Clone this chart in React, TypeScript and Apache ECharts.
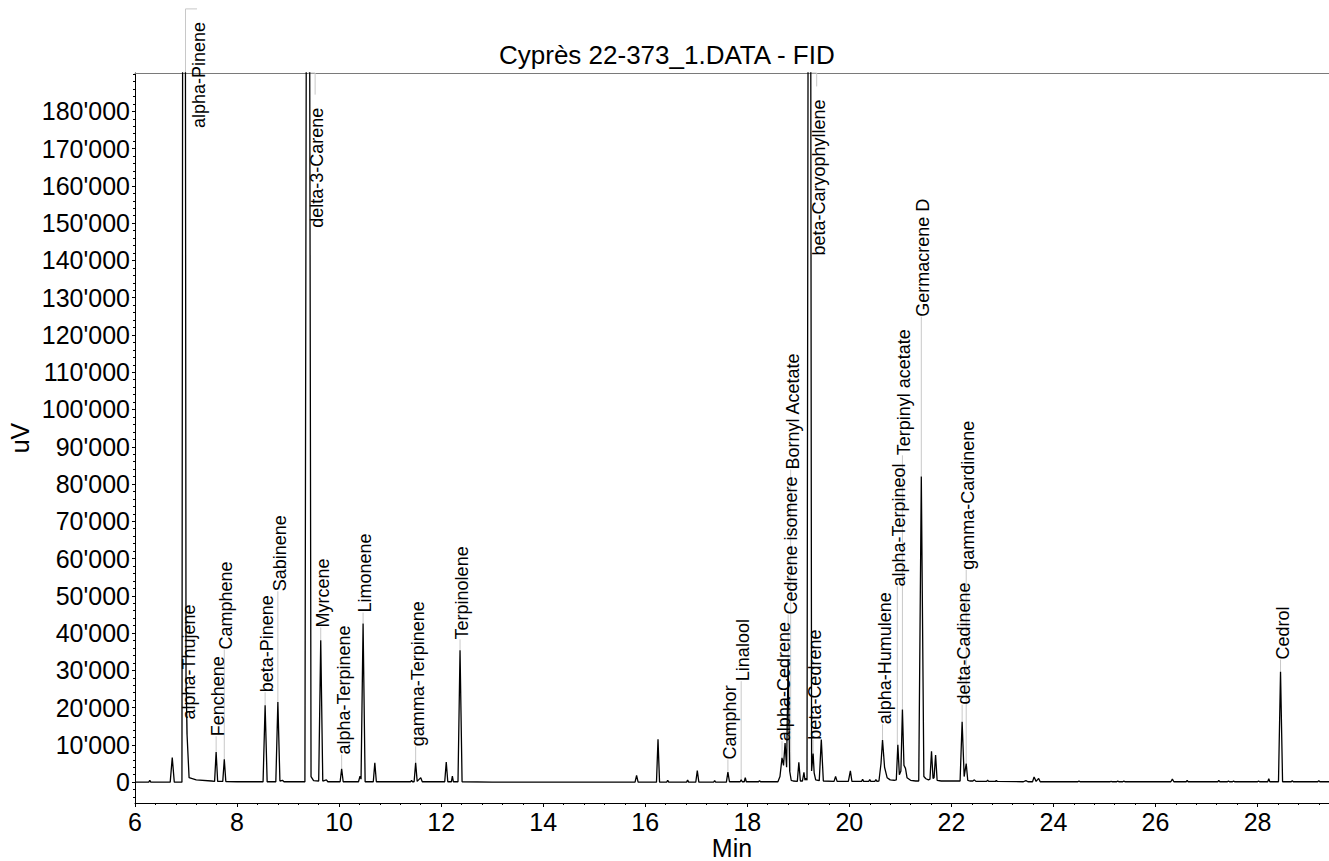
import React, { useEffect, useRef } from "react";
import * as echarts from "echarts";

const TITLE = "Cyprès 22-373_1.DATA - FID";
const X_NAME = "Min";
const Y_NAME = "uV";
const X_MIN = 6;
const X_MAX = 29.4;
const Y_MIN = -5600;
const Y_MAX = 190300;
const X_TICKS = [6, 8, 10, 12, 14, 16, 18, 20, 22, 24, 26, 28];
const Y_TICKS = [0, 10000, 20000, 30000, 40000, 50000, 60000, 70000, 80000, 90000, 100000, 110000, 120000, 130000, 140000, 150000, 160000, 170000, 180000];

// chromatogram trace: [time (min), signal (uV)]
const TRACE: [number, number][] = [
  [6.0, 0], [6.27, 0], [6.29, 500], [6.31, 0],
  [6.69, 0], [6.73, 6600], [6.77, 0],
  [6.92, 0], [6.96, 600000], [7.0, 28000], [7.02, 12800], [7.06, 1200], [7.2, 600], [7.5, 300],
  [7.56, 200], [7.59, 8100], [7.62, 200],
  [7.72, 200], [7.75, 6100], [7.78, 150], [8.0, 100],
  [8.51, 100], [8.55, 20600], [8.59, 100],
  [8.76, 100], [8.8, 21500], [8.84, 300], [8.89, 500], [8.92, 100],
  [9.33, 100], [9.39, 450000], [9.45, 1500], [9.5, 400],
  [9.6, 300], [9.64, 38100], [9.68, 300], [9.75, 600], [9.78, 100],
  [10.02, 100], [10.05, 3600], [10.08, 100],
  [10.38, 100], [10.41, 1600], [10.43, 800], [10.47, 42600], [10.51, 100],
  [10.67, 100], [10.7, 5200], [10.73, 100],
  [11.4, 100], [11.42, 500], [11.44, 100],
  [11.47, 100], [11.5, 5200], [11.53, 200], [11.6, 1200], [11.63, 100],
  [12.07, 100], [12.1, 5400], [12.13, 100], [12.2, 100], [12.22, 1600], [12.24, 100],
  [12.33, 100], [12.37, 35400], [12.41, 100],
  [13.0, 0], [15.5, 0],
  [15.8, 0], [15.83, 1800], [15.86, 0],
  [16.22, 0], [16.25, 11500], [16.28, 0], [16.42, 0], [16.44, 500], [16.46, 0], [16.81, 0], [16.83, 600], [16.85, 0],
  [16.99, 0], [17.02, 3100], [17.05, 0], [17.34, 0], [17.36, 400], [17.38, 0],
  [17.59, 0], [17.62, 2700], [17.65, 100], [17.86, 100], [17.88, 600], [17.9, 100], [17.94, 100], [17.96, 1200], [17.98, 100],
  [18.22, 100], [18.24, 400], [18.26, 100],
  [18.6, 100], [18.64, 1500], [18.68, 6500], [18.71, 4500], [18.74, 10500], [18.77, 4000], [18.8, 32900], [18.83, 3000], [18.86, 500], [18.9, 300],
  [18.98, 200], [19.01, 5300], [19.04, 300], [19.08, 300], [19.11, 2600], [19.13, 500], [19.15, 1000], [19.17, 500],
  [19.22, 480000], [19.26, 3000], [19.29, 7700], [19.31, 2500], [19.34, 600], [19.41, 400], [19.45, 11400], [19.49, 300],
  [19.7, 200], [19.73, 1500], [19.76, 200], [19.98, 200], [20.02, 3000], [20.05, 200],
  [20.24, 200], [20.26, 800], [20.28, 200], [20.38, 200], [20.4, 700], [20.42, 200], [20.5, 200], [20.52, 700], [20.54, 200],
  [20.58, 300], [20.62, 5000], [20.65, 11300], [20.69, 4000], [20.74, 1200], [20.8, 600], [20.88, 500],
  [20.92, 600], [20.95, 10000], [20.98, 2000], [21.01, 3000], [21.04, 19500], [21.07, 4500], [21.1, 3700], [21.13, 1200], [21.2, 500], [21.3, 300],
  [21.36, 300], [21.41, 82000], [21.46, 1500], [21.5, 900], [21.55, 600], [21.58, 800], [21.61, 8300], [21.64, 1000], [21.66, 1200], [21.69, 7300], [21.72, 500], [21.8, 300],
  [22.17, 300], [22.21, 16200], [22.25, 1500], [22.29, 5000], [22.32, 500], [22.36, 300], [22.42, 300], [22.45, 600], [22.48, 200],
  [22.69, 200], [22.71, 500], [22.73, 200], [22.86, 200], [22.88, 400], [22.9, 200],
  [23.41, 100], [23.46, 400], [23.5, 100], [23.59, 100], [23.62, 1400], [23.66, 200], [23.71, 1000], [23.74, 100],
  [24.48, 100], [24.5, 300], [24.52, 100],
  [25.11, 100], [25.13, 200], [25.15, 100], [25.24, 100], [25.26, 300], [25.28, 100], [25.36, 100], [25.38, 300], [25.4, 100],
  [26.3, 100], [26.33, 800], [26.36, 100], [26.6, 100], [26.62, 500], [26.64, 100],
  [27.22, 100], [27.24, 500], [27.26, 100], [27.41, 100], [27.43, 300], [27.45, 100], [27.51, 100], [27.53, 300], [27.55, 100],
  [28.0, 100], [28.02, 300], [28.04, 100], [28.2, 100], [28.22, 900], [28.24, 100],
  [28.41, 100], [28.45, 29600], [28.49, 100], [28.66, 100], [28.68, 400], [28.7, 100],
  [29.18, 100], [29.2, 400], [29.22, 100], [29.4, 100],
];

// peak annotations
const LABEL_NAMES = [
  "alpha-Pinene", "alpha-Thujene", "Fenchene", "Camphene", "beta-Pinene", "Sabinene",
  "delta-3-Carene", "Myrcene", "alpha-Terpinene", "Limonene", "gamma-Terpinene", "Terpinolene",
  "Camphor", "Linalool", "alpha-Cedrene", "Cedrene isomere", "Bornyl Acetate", "beta-Caryophyllene",
  "beta-Cedrene", "alpha-Humulene", "alpha-Terpineol", "Terpinyl acetate", "Germacrene D",
  "delta-Cadinene", "gamma-Cardinene", "Cedrol",
];
const LABEL_PEAK_TIME = [6.99, 7.02, 7.59, 7.75, 8.55, 8.8, 9.39, 9.64, 10.05, 10.47, 11.5, 12.37, 17.62, 17.88, 18.68, 18.8, 18.85, 19.22, 19.29, 20.65, 20.94, 21.04, 21.41, 22.21, 22.29, 28.45];
const LABEL_PEAK_UV = [190300, 12800, 8100, 6100, 20600, 21500, 190300, 38100, 3600, 42600, 5200, 35400, 2700, 600, 6500, 32900, 3000, 190300, 7700, 11300, 10000, 19500, 82000, 16200, 5000, 29600];
const LABEL_TEXT_TIME = [7.215, 7.02, 7.59, 7.75, 8.55, 8.8, 9.53, 9.64, 10.05, 10.47, 11.5, 12.37, 17.62, 17.88, 18.68, 18.81, 18.86, 19.36, 19.29, 20.65, 20.94, 21.04, 21.41, 22.21, 22.29, 28.45];
const LABEL_TEXT_UV = [204000, 16800, 12300, 35600, 24100, 51200, 181000, 41500, 7400, 45500, 9600, 38300, 6100, 27100, 11000, 45000, 83900, 183200, 11400, 15500, 52500, 87700, 124900, 20800, 57000, 32900];
const LABEL_HANG = [true, false, false, false, false, false, true, false, false, false, false, false, false, false, false, false, false, true, false, false, false, false, false, false, false, false];
const LABEL_BEND_UV = [207500, 0, 0, 0, 0, 0, 190300, 0, 0, 0, 0, 0, 0, 0, 0, 0, 0, 190300, 0, 0, 0, 0, 0, 0, 0, 0];

const FONT = "'Liberation Sans', Arial, Helvetica, sans-serif";

function minorTicks(start: number, end: number, step: number, majors: number[]) {
  const out: number[] = [];
  const n = Math.floor((end - start) / step + 1e-9);
  for (let i = 0; i <= n; i++) {
    const v = Math.round((start + i * step) * 1000) / 1000;
    if (!majors.some((m) => Math.abs(m - v) < 1e-6)) out.push(v);
  }
  return out;
}

function fmtY(v: number) {
  return String(Math.round(v)).replace(/\B(?=(\d{3})+(?!\d))/g, "'");
}

export default function App() {
  const ref = useRef<HTMLDivElement>(null);
  useEffect(() => {
    if (!ref.current) return;
    const chart = echarts.init(ref.current, undefined, { renderer: "svg" });
    const xMinor = minorTicks(X_MIN, X_MAX, 0.4, X_TICKS);
    const yMinor = minorTicks(-4000, 190000, 2000, Y_TICKS);
    const labelData = LABEL_NAMES.map((_, i) => [LABEL_TEXT_TIME[i], LABEL_TEXT_UV[i]]);

    const option: any = {
      animation: false,
      backgroundColor: "#fff",
      title: {
        text: TITLE,
        left: 499,
        top: 42,
        padding: 0,
        textStyle: { fontSize: 26, fontWeight: "normal", color: "#000", fontFamily: FONT },
      },
      grid: { left: 135, top: 73, right: 0, bottom: 58, containLabel: false, outerBoundsMode: "none" },
      xAxis: [
        {
          type: "value",
          min: X_MIN,
          max: X_MAX,
          position: "bottom",
          axisLine: { show: true, onZero: false, lineStyle: { color: "#000", width: 1 } },
          axisTick: { show: true, inside: false, length: 4, customValues: X_TICKS, lineStyle: { color: "#000" } },
          axisLabel: { customValues: X_TICKS, fontSize: 25, color: "#000", fontFamily: FONT, margin: 6 },
          splitLine: { show: false },
          name: X_NAME,
          nameLocation: "middle",
          nameGap: 32,
          nameMoveOverlap: false,
          nameTextStyle: { fontSize: 25, color: "#000", fontFamily: FONT, lineHeight: 25 },
        },
        {
          type: "value",
          min: X_MIN,
          max: X_MAX,
          position: "bottom",
          axisLine: { show: false, onZero: false },
          axisTick: { show: true, inside: false, length: 2, customValues: xMinor, lineStyle: { color: "#000" } },
          axisLabel: { show: false },
          splitLine: { show: false },
        },
        {
          type: "value",
          min: X_MIN,
          max: X_MAX,
          position: "top",
          axisLine: { show: true, onZero: false, lineStyle: { color: "#7a7a7a", width: 1 } },
          axisTick: { show: false },
          axisLabel: { show: false },
          splitLine: { show: false },
        },
      ],
      yAxis: [
        {
          type: "value",
          min: Y_MIN,
          max: Y_MAX,
          position: "left",
          axisLine: { show: true, onZero: false, lineStyle: { color: "#000", width: 1 } },
          axisTick: { show: true, inside: false, length: 3, customValues: Y_TICKS, lineStyle: { color: "#000" } },
          axisLabel: { customValues: Y_TICKS, fontSize: 25, color: "#000", fontFamily: FONT, margin: 5, formatter: fmtY },
          splitLine: { show: false },
          name: Y_NAME,
          nameLocation: "middle",
          nameGap: 103,
          nameMoveOverlap: false,
          nameTextStyle: { fontSize: 25, color: "#000", fontFamily: FONT },
        },
        {
          type: "value",
          min: Y_MIN,
          max: Y_MAX,
          position: "left",
          axisLine: { show: false, onZero: false },
          axisTick: { show: true, inside: false, length: 2, customValues: yMinor, lineStyle: { color: "#000" } },
          axisLabel: { show: false },
          splitLine: { show: false },
        },
      ],
      series: [
        {
          type: "custom",
          xAxisIndex: 0,
          yAxisIndex: 0,
          z: 1,
          clip: false,
          silent: true,
          data: labelData,
          encode: { x: 0, y: 1 },
          renderItem: (params: any, api: any) => {
            const i = params.dataIndex;
            const hang = LABEL_HANG[i];
            const p0 = api.coord([LABEL_PEAK_TIME[i], LABEL_PEAK_UV[i]]);
            const tp = api.coord([LABEL_TEXT_TIME[i], LABEL_TEXT_UV[i]]);
            let pts: number[][];
            if (!hang) {
              pts = [p0, [p0[0], tp[1]]];
            } else {
              const b1 = api.coord([LABEL_PEAK_TIME[i], LABEL_BEND_UV[i]]);
              const b2 = api.coord([LABEL_TEXT_TIME[i], LABEL_BEND_UV[i]]);
              pts = [p0, b1, b2, [b2[0], Math.max(b2[1], tp[1] - 13)]];
            }
            return {
              type: "group",
              children: [
                {
                  type: "polyline",
                  shape: { points: pts },
                  style: { stroke: "#c8c8c8", lineWidth: 1, fill: null },
                },
                {
                  type: "text",
                  x: tp[0] + 2,
                  y: tp[1],
                  rotation: Math.PI / 2,
                  z2: 10,
                  style: {
                    text: LABEL_NAMES[i],
                    fontSize: 18,
                    fontFamily: FONT,
                    fill: "#000",
                    align: hang ? "right" : "left",
                    verticalAlign: "middle",
                  },
                },
              ],
            };
          },
        },
        {
          type: "line",
          xAxisIndex: 0,
          yAxisIndex: 0,
          z: 2,
          data: TRACE,
          showSymbol: false,
          symbol: "none",
          lineStyle: { color: "#000", width: 1.3 },
          silent: true,
        },
      ],
    };
    chart.setOption(option);
    return () => chart.dispose();
  }, []);
  return (
    <div
      ref={ref}
      style={{ position: "absolute", left: 0, top: 0, width: 1329, height: 861, background: "#fff" }}
    />
  );
}
